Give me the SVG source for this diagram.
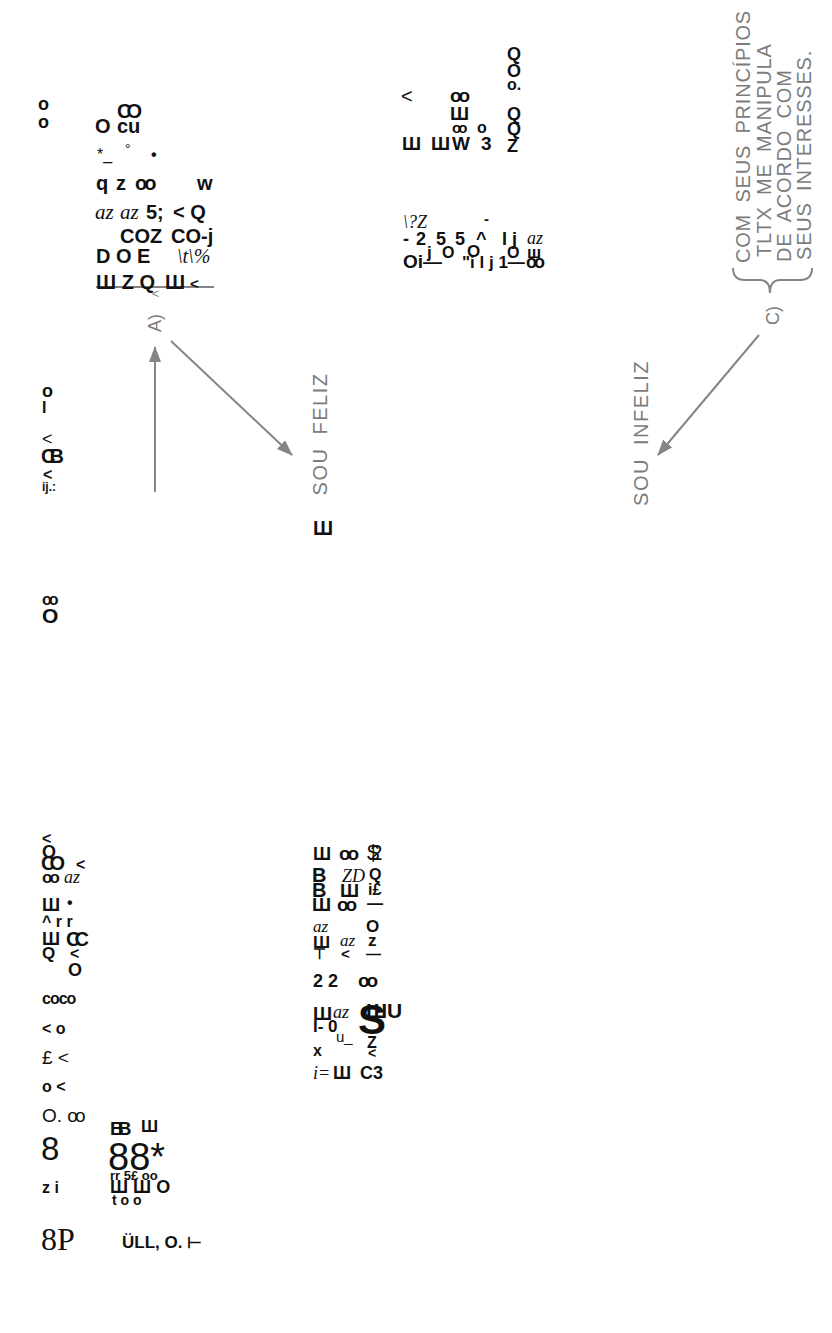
<svg xmlns="http://www.w3.org/2000/svg" width="832" height="1333" viewBox="0 0 832 1333">
<style>
text{font-family:"Liberation Sans",Arial,sans-serif;fill:#111}
.b{font-weight:bold;font-size:19px}
.s{font-weight:bold;font-size:15px}
.r{font-size:19px}
.i{font-family:"Liberation Serif","Times New Roman",serif;font-style:italic;font-size:20px}
.oo{letter-spacing:-3px}
.g{fill:#7c7c7c;font-size:20px;letter-spacing:0.8px;word-spacing:5px}
.ln{stroke:#858585;stroke-width:2;fill:none}
</style>
<defs>
<marker id="ah2" markerWidth="16" markerHeight="12" refX="15" refY="6" orient="auto" markerUnits="userSpaceOnUse" viewBox="0 0 16 12">
<path d="M0,0 L16,6 L0,12 Z" fill="#858585"/>
</marker>
</defs>

<g id="connectors">
<line class="ln" x1="155" y1="492" x2="155" y2="347" marker-end="url(#ah2)"/>
<line class="ln" x1="171" y1="341" x2="292" y2="455" marker-end="url(#ah2)"/>
<line class="ln" x1="759" y1="335" x2="658" y2="455" marker-end="url(#ah2)"/>
<line class="ln" x1="96" y1="287" x2="214" y2="287"/>
<path class="ln" d="M733,268 Q733,280 745,280 L760,280 Q770,280 770,293 Q770,280 780,280 L800,280 Q812,280 812,268"/>
</g>

<g id="topleft">
<text class="s" x="38" y="110" style="font-size:18px">o</text>
<text class="s" x="38" y="128" style="font-size:18px">o</text>
<text class="b" x="95" y="133" style="font-size:20px">O</text>
<text class="b" x="117" y="133" style="font-size:20px">cu</text>
<text class="b" x="117" y="118" style="font-size:20px;letter-spacing:-5px">CO</text>
<text class="r" x="97" y="160" style="font-size:16px">*_</text>
<text class="r" x="125" y="154" style="font-size:14px">°</text>
<text class="b" x="151" y="160" style="font-size:16px">•</text>
<text class="b" x="96" y="190" style="font-size:20px">q</text>
<text class="b" x="116" y="190" style="font-size:20px">z</text>
<text class="b oo" x="135" y="190" style="font-size:20px">oo</text>
<text class="b" x="197" y="190" style="font-size:20px">w</text>
<text class="i" x="95" y="219" style="font-size:21px">az</text>
<text class="i" x="120" y="219" style="font-size:21px">az</text>
<text class="b" x="146" y="219" style="font-size:20px">5;</text>
<text class="b" x="173" y="219" style="font-size:20px">&lt; Q</text>
<text class="b" x="120" y="243" style="font-size:20px">COZ</text>
<text class="b" x="171" y="243" style="font-size:20px">CO-j</text>
<text class="b" x="96" y="263" style="font-size:20px">D O E</text>
<text class="i" x="177" y="263" style="font-size:20px">\t\%</text>
<text class="b" x="96" y="289" style="font-size:20px">Ш Z Q</text>
<text class="b" x="165" y="289" style="font-size:20px">Ш</text>
<text class="b" x="190" y="289" style="font-size:15px">&lt;</text>
</g>

<g id="nodeA">
<text class="g" x="152" y="298" style="font-size:12px;letter-spacing:0">&lt;</text>
<text class="g" transform="translate(161,332) rotate(-90)" style="font-size:18px;letter-spacing:0">A)</text>
</g>

<g id="souFeliz">
<text class="g" transform="translate(327,434) rotate(-90)" text-anchor="middle" style="letter-spacing:1.5px;word-spacing:6px">SOU FELIZ</text>
<text class="b" x="313" y="535" style="font-size:20px">Ш</text>
</g>

<g id="topmid">
<text class="r" x="401" y="103" style="font-size:20px">&lt;</text>
<text class="b oo" x="450" y="102" style="font-size:19px">oo</text>
<text class="b" x="450" y="120" style="font-size:19px">Ш</text>
<text class="b oo" x="452" y="133" style="font-size:15px">oo</text>
<text class="b" x="477" y="133" style="font-size:16px">o</text>
<text class="b" x="402" y="150" style="font-size:19px">Ш</text>
<text class="b" x="431" y="150" style="font-size:19px">Ш</text>
<text class="b" x="452" y="150" style="font-size:19px">W</text>
<text class="b" x="481" y="150" style="font-size:19px">3</text>
<text class="b" x="507" y="60" style="font-size:18px">Q</text>
<text class="b" x="507" y="77" style="font-size:18px">O</text>
<text class="b" x="507" y="90" style="font-size:16px">o.</text>
<text class="b" x="507" y="120" style="font-size:18px">Q</text>
<text class="b" x="507" y="135" style="font-size:18px">Q</text>
<text class="b" x="507" y="152" style="font-size:18px">Z</text>
</g>

<g id="midmid">
<text class="i" x="403" y="228" style="font-size:18px">\?Z</text>
<text class="b" x="484" y="224" style="font-size:15px">-</text>
<text class="b" x="403" y="245" style="font-size:18px">-</text>
<text class="b" x="416" y="245" style="font-size:18px">2</text>
<text class="b" x="436" y="245" style="font-size:18px">5</text>
<text class="b" x="455" y="245" style="font-size:18px">5</text>
<text class="b" x="476" y="245" style="font-size:18px">^</text>
<text class="b" x="502" y="245" style="font-size:18px">I</text>
<text class="b" x="512" y="245" style="font-size:18px">j</text>
<text class="i" x="527" y="244" style="font-size:18px">az</text>
<text class="b" x="427" y="258" style="font-size:17px">j</text>
<text class="b" x="442" y="258" style="font-size:16px">O</text>
<text class="b" x="467" y="257" style="font-size:17px">O</text>
<text class="b" x="507" y="258" style="font-size:16px">O</text>
<text class="b" x="527" y="258" style="font-size:17px">ш</text>
<text class="b" x="403" y="268" style="font-size:19px">Oi—</text>
<text class="b" x="462" y="268" style="font-size:17px">"i l j 1—</text>
<text class="b oo" x="526" y="268" style="font-size:18px">oo</text>
</g>

<g id="nodeC">
<text class="g" transform="translate(750,263) rotate(-90)">COM SEUS PRINCÍPIOS</text>
<text class="g" transform="translate(771,257) rotate(-90)">TLTX ME MANIPULA</text>
<text class="g" transform="translate(791,262) rotate(-90)">DE ACORDO COM</text>
<text class="g" transform="translate(811,260) rotate(-90)">SEUS INTERESSES.</text>
<text class="g" transform="translate(779,325) rotate(-90)" style="font-size:18px;letter-spacing:0">C)</text>
</g>

<g id="souInfeliz">
<text class="g" transform="translate(648,433) rotate(-90)" text-anchor="middle" style="letter-spacing:1.5px;word-spacing:6px">SOU INFELIZ</text>
</g>

<g id="leftmid">
<text class="s" x="42" y="397" style="font-size:18px">o</text>
<text class="s" x="42" y="413" style="font-size:16px">I</text>
<text class="r" x="42" y="445" style="font-size:18px">&lt;</text>
<text class="b" x="41" y="463" style="font-size:20px;letter-spacing:-6px">CB</text>
<text class="s" x="43" y="480" style="font-size:16px">&lt;</text>
<text class="s" x="42" y="491" style="font-size:12px">ij.:</text>
<text class="b oo" x="42" y="605" style="font-size:16px">oo</text>
<text class="b" x="42" y="623" style="font-size:21px">O</text>
</g>

<g id="bottomleft">
<text class="b" x="42" y="844" style="font-size:16px">&lt;</text>
<text class="b" x="42" y="858" style="font-size:18px">O</text>
<text class="b" x="41" y="870" style="font-size:20px;letter-spacing:-6px">CO</text>
<text class="s" x="76" y="870" style="font-size:16px">&lt;</text>
<text class="b oo" x="42" y="883" style="font-size:17px">oo</text>
<text class="i" x="64" y="883" style="font-size:18px">az</text>
<text class="b" x="42" y="911" style="font-size:18px">Ш</text>
<text class="b" x="67" y="908" style="font-size:16px">•</text>
<text class="b" x="42" y="927" style="font-size:16px">^ r r</text>
<text class="b" x="42" y="945" style="font-size:18px">Ш</text>
<text class="b" x="42" y="959" style="font-size:17px">Q</text>
<text class="b" x="66" y="946" style="font-size:20px;letter-spacing:-6px">CC</text>
<text class="s" x="70" y="959" style="font-size:16px">&lt;</text>
<text class="b" x="68" y="976" style="font-size:18px">O</text>
<text class="b" x="42" y="1004" style="font-size:16px;letter-spacing:-1px">coco</text>
<text class="s" x="42" y="1034" style="font-size:16px">&lt; o</text>
<text class="r" x="42" y="1064" style="font-size:19px">£ &lt;</text>
<text class="s" x="42" y="1092" style="font-size:16px">o &lt;</text>
<text class="r" x="42" y="1122" style="font-size:19px">O. <tspan style="letter-spacing:-3px">oo</tspan></text>
<text class="r" x="41" y="1160" style="font-size:33px">8</text>
<text class="s" x="42" y="1193" style="font-size:16px">z i</text>
<text x="41" y="1250" style="font-family:'Liberation Serif',serif;font-size:32px">8P</text>
</g>

<g id="bottomleft2">
<text class="b" x="110" y="1135" style="font-size:19px;letter-spacing:-6px">BB</text>
<text class="b" x="141" y="1132" style="font-size:17px">Ш</text>
<text class="r" x="108" y="1170" style="font-size:38px">88*</text>
<text class="b" x="110" y="1180" style="font-size:13px">rr 5£ oo</text>
<text class="b" x="110" y="1193" style="font-size:18px">Ш Ш O</text>
<text class="s" x="112" y="1205" style="font-size:14px">t  o  o</text>
<text class="s" x="122" y="1248" style="font-size:17px">ÜLL, O. ⊢</text>
</g>

<g id="bottommid">
<text class="b" x="313" y="860" style="font-size:18px">Ш</text>
<text class="b oo" x="339" y="860" style="font-size:19px">oo</text>
<text class="r" x="367" y="860" style="font-size:22px;letter-spacing:-9px">$2</text>
<text class="b" x="312" y="882" style="font-size:20px">B</text>
<text class="i" x="342" y="882" style="font-size:18px">ZD</text>
<text class="b" x="369" y="880" style="font-size:16px">Q</text>
<text class="b" x="312" y="897" style="font-size:20px">B</text>
<text class="b" x="340" y="897" style="font-size:19px">Ш</text>
<text class="b" x="368" y="895" style="font-size:16px">i£</text>
<text class="b" x="312" y="911" style="font-size:19px">Ш</text>
<text class="b oo" x="337" y="911" style="font-size:19px">oo</text>
<text class="b" x="367" y="909" style="font-size:16px">—</text>
<text class="b" x="366" y="932" style="font-size:17px">O</text>
<text class="i" x="313" y="932" style="font-size:17px">az</text>
<text class="b" x="313" y="948" style="font-size:17px">Ш</text>
<text class="i" x="340" y="946" style="font-size:17px">az</text>
<text class="b" x="368" y="946" style="font-size:17px">z</text>
<text class="b" x="313" y="959" style="font-size:15px">⊤</text>
<text class="b" x="341" y="959" style="font-size:15px">&lt;</text>
<text class="b" x="366" y="959" style="font-size:15px">—</text>
<text class="b" x="313" y="987" style="font-size:18px">2  2</text>
<text class="b oo" x="358" y="987" style="font-size:19px">oo</text>
<text class="b" x="313" y="1020" style="font-size:19px">Ш</text>
<text class="i" x="333" y="1018" style="font-size:18px">az</text>
<text class="b" x="358" y="1034" style="font-size:42px">S</text>
<text class="b" x="366" y="1018" style="font-size:21px">ШU</text>
<text class="b" x="313" y="1032" style="font-size:17px">I- 0</text>
<text class="r" x="336" y="1042" style="font-size:15px">u_</text>
<text class="b" x="367" y="1048" style="font-size:16px">Z</text>
<text class="b" x="368" y="1058" style="font-size:14px">&lt;</text>
<text class="b" x="313" y="1056" style="font-size:16px">x</text>
<text class="i" x="313" y="1079" style="font-size:18px">i=</text>
<text class="b" x="333" y="1079" style="font-size:18px">Ш</text>
<text class="b" x="360" y="1079" style="font-size:18px">C3</text>
</g>
</svg>
